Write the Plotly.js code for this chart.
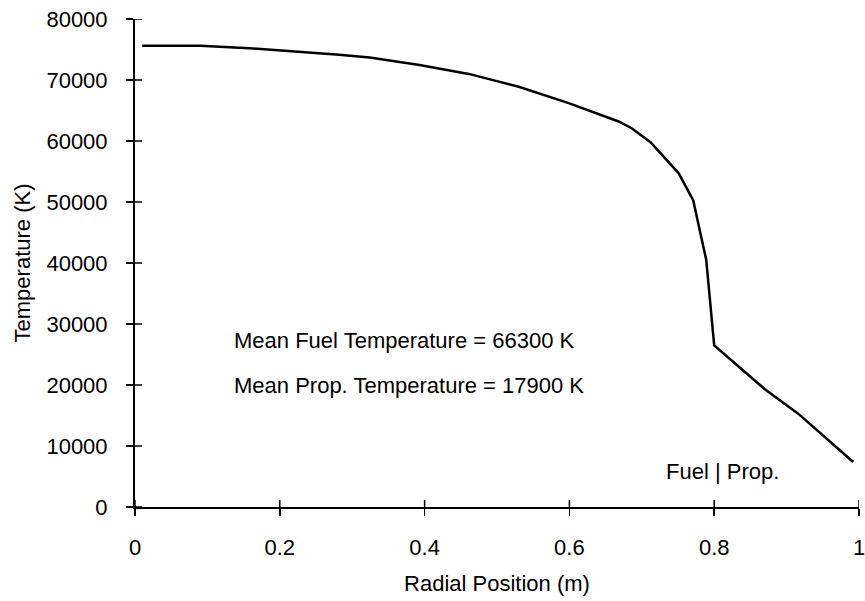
<!DOCTYPE html>
<html>
<head>
<meta charset="utf-8">
<script src="https://cdn.plot.ly/plotly-3.0.1.min.js"></script>
<style>html,body{margin:0;padding:0;background:#fff}#chart{width:865px;height:601px}</style>
</head>
<body>
<div id="chart"></div>
<script>
// Radial position (m)
var radius = [0.01, 0.09, 0.158, 0.227, 0.282, 0.324, 0.393, 0.461, 0.53, 0.599, 0.64, 0.668, 0.686, 0.712, 0.751, 0.771, 0.789, 0.794, 0.8, 0.87, 0.916, 0.992];
// Temperature (K)
var temperature = [75600, 75600, 75200, 74640, 74150, 73700, 72460, 71000, 68900, 66220, 64500, 63200, 62100, 59800, 54700, 50300, 40500, 33900, 26500, 19300, 15300, 7380];
var xTicks = [0, 0.2, 0.4, 0.6, 0.8, 1];
var xTickLabels = ["0", "0.2", "0.4", "0.6", "0.8", "1"];
var yTicks = [0, 10000, 20000, 30000, 40000, 50000, 60000, 70000, 80000];
var yTickLabels = ["0", "10000", "20000", "30000", "40000", "50000", "60000", "70000", "80000"];
var notes = ["Mean Fuel Temperature = 66300 K", "Mean Prop. Temperature = 17900 K", "Fuel | Prop."];
var noteX = [0.134, 0.134, 0.731];
var noteY = [27350, 19960, 5900];

var F = "Liberation Sans, Arial, sans-serif";
var W = 865, H = 601, M = {l: 135, r: 6, t: 19, b: 94};
var plotW = W - M.l - M.r, plotH = H - M.t - M.b;
var TICK = 7;

var trace = {x: radius, y: temperature, type: "scatter", mode: "lines",
  line: {color: "#000", width: 2.5}, hoverinfo: "skip", showlegend: false};

var axBase = {showgrid: false, zeroline: false, showline: true, linecolor: "#000", linewidth: 2,
  ticks: "outside", ticklen: TICK, tickwidth: 1.5, tickcolor: "#000", tickmode: "array",
  ticklabeloverflow: "allow",
  tickfont: {family: F, size: 22, color: "#000"}};

// inward half of the crossing tick marks, built from the tick arrays
var shapes = [];
xTicks.forEach(function (v) {
  shapes.push({type: "line", xref: "x", yref: "paper", x0: v, x1: v, y0: 0, y1: TICK / plotH,
    line: {color: "#000", width: 1.5}});
});
yTicks.forEach(function (v) {
  shapes.push({type: "line", xref: "paper", yref: "y", x0: 0, x1: TICK / plotW, y0: v, y1: v,
    line: {color: "#000", width: 1.5}});
});

var layout = {
  width: W, height: H,
  margin: M,
  paper_bgcolor: "#fff", plot_bgcolor: "#fff",
  font: {family: F, color: "#000"},
  xaxis: Object.assign({}, axBase, {range: [0, 1], tickvals: xTicks, ticktext: xTickLabels,
    ticklabelstandoff: 13,
    title: {text: "Radial Position (m)", font: {family: F, size: 22, color: "#000"}, standoff: 16}}),
  yaxis: Object.assign({}, axBase, {range: [0, 80000], tickvals: yTicks, ticktext: yTickLabels,
    ticklabelstandoff: 14,
    title: {text: "Temperature (K)", font: {family: F, size: 22, color: "#000"}, standoff: 10}}),
  shapes: shapes,
  annotations: notes.map(function (t, i) {
    return {text: t, x: noteX[i], y: noteY[i], xref: "x", yref: "y", xanchor: "left", yanchor: "middle",
      showarrow: false, font: {family: F, size: 22, color: "#000"}};
  })
};

Plotly.newPlot("chart", [trace], layout, {staticPlot: true, displayModeBar: false});
</script>
</body>
</html>
